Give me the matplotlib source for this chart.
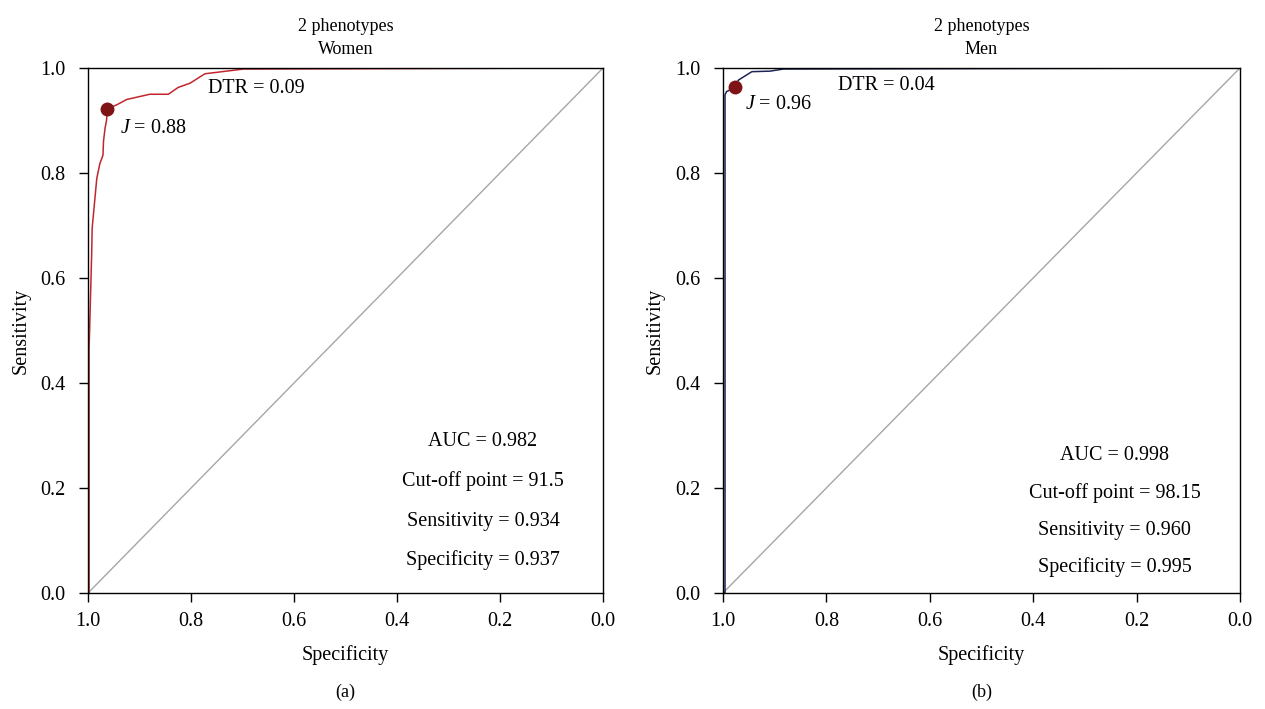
import matplotlib.pyplot as plt

plt.rcParams['font.family'] = ['Liberation Serif', 'DejaVu Serif']
plt.rcParams['mathtext.fontset'] = 'custom'
plt.rcParams['mathtext.it'] = 'Liberation Serif:italic'
plt.rcParams['mathtext.rm'] = 'Liberation Serif'

# ROC curve (specificity, sensitivity)
women_spec = [1.0, 0.998, 0.998, 0.993, 0.992, 0.983, 0.977, 0.971, 0.970, 0.967,
              0.964, 0.963, 0.944, 0.925, 0.880, 0.844, 0.825, 0.802, 0.773, 0.698, 0.0]
women_sens = [0.0, 0.0, 0.463, 0.644, 0.695, 0.790, 0.818, 0.834, 0.860, 0.885,
              0.901, 0.922, 0.930, 0.940, 0.950, 0.950, 0.963, 0.971, 0.989, 0.998, 1.0]
men_spec = [1.0, 0.996, 0.996, 0.993, 0.977, 0.970, 0.944, 0.909, 0.883, 0.0]
men_sens = [0.0, 0.0, 0.949, 0.955, 0.963, 0.977, 0.993, 0.994, 0.998, 1.0]

women_best = (0.963, 0.922)
men_best = (0.977, 0.963)

titles = ["2 phenotypes\nWomen", "2 phenotypes\nMen"]
captions = ["(a)", "(b)"]
dtr_labels = ["DTR = 0.09", "DTR = 0.04"]
j_labels = ["$J$ = 0.88", "$J$ = 0.96"]
stats = [["AUC = 0.982", "Cut-off point = 91.5", "Sensitivity = 0.934", "Specificity = 0.937"],
         ["AUC = 0.998", "Cut-off point = 98.15", "Sensitivity = 0.960", "Specificity = 0.995"]]

fig = plt.figure(figsize=(12.65, 7.09), dpi=100)
ax1 = fig.add_axes([0.0696, 0.1636, 0.4071, 0.7405])
ax2 = fig.add_axes([0.5715, 0.1636, 0.4087, 0.7405])

panels = [
    (ax1, women_spec, women_sens, women_best, "#c0272d",
     (0.767, 0.96), (0.938, 0.884), 0.233, [0.288, 0.213, 0.137, 0.063]),
    (ax2, men_spec, men_sens, men_best, "#1c2555",
     (0.778, 0.966), (0.957, 0.931), 0.242, [0.261, 0.191, 0.120, 0.050]),
]

fs = 14.5
for i, (ax, spec, sens, best, col, dtr_pos, j_pos, sx, sy) in enumerate(panels):
    ax.plot([1, 0], [0, 1], color="#a6a6a6", lw=1)
    ax.plot(spec, sens, color=col, lw=1.1)
    ax.plot(best[0], best[1], "o", color="#7f1416", ms=9)
    ax.set_xlim(1.0, 0.0)
    ax.set_ylim(0.0, 1.0)
    ax.set_xticks([1.0, 0.8, 0.6, 0.4, 0.2, 0.0])
    ax.set_yticks([0.0, 0.2, 0.4, 0.6, 0.8, 1.0])
    ax.set_xticklabels(["1.0", "0.8", "0.6", "0.4", "0.2", "0.0"])
    ax.set_yticklabels(["0.0", "0.2", "0.4", "0.6", "0.8", "1.0"])
    ax.tick_params(labelsize=fs, length=6.5, direction="out", width=1)
    ax.tick_params(axis="x", pad=7)
    ax.tick_params(axis="y", pad=10)
    for s in ax.spines.values():
        s.set_linewidth(1)
    ax.set_xlabel("Specificity", fontsize=fs, labelpad=10)
    ax.set_ylabel("Sensitivity", fontsize=fs, labelpad=7)
    ax.set_title(titles[i], fontsize=13, linespacing=1.5, pad=10)
    ax.text(dtr_pos[0], dtr_pos[1], dtr_labels[i], fontsize=fs, va="center", ha="left")
    ax.text(j_pos[0], j_pos[1], j_labels[i], fontsize=fs, va="center", ha="left")
    for txt, y in zip(stats[i], sy):
        ax.text(sx, y, txt, fontsize=fs, ha="center", va="center")
    ax.text(0.5, -0.19, captions[i], transform=ax.transAxes, fontsize=13,
            ha="center", va="center")

fig.savefig("out.png", dpi=100)
